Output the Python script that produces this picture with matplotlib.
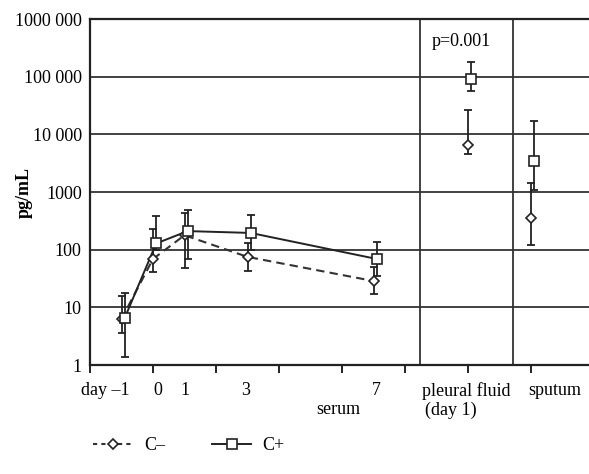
import matplotlib
matplotlib.use("Agg")
import matplotlib.pyplot as plt
from matplotlib.lines import Line2D
import numpy as np

plt.rcParams['font.family'] = ['Liberation Serif', 'DejaVu Serif']

# ---- data ----
days = [-1, 0, 1, 3, 7]              # serum sampling days
sample_x = [-1, 0, 1, 3, 7, 10, 12]  # serum days, pleural fluid, sputum (x positions)
n_serum = len(days)

cneg_val = [6.3, 69, 178, 75, 28.6, 6500, 352]
cneg_lo = [3.6, 41, 48, 43, 17, 4500, 120]
cneg_hi = [15.7, 228, 440, 130, 50, 26000, 1420]

cpos_val = [6.5, 128, 210, 195, 69, 91000, 3450]
cpos_lo = [1.37, 100, 69, 100, 35, 56000, 1080]
cpos_hi = [17.7, 380, 485, 400, 135, 178000, 17000]

xlabels = ['day \u20131', '0', '1', '3', '7', 'pleural fluid', 'sputum']
ylabels = ['1', '10', '100', '1000', '10 000', '100 000', '1000 000']
yticks = [1, 10, 100, 1000, 10000, 100000, 1000000]

# ---- figure ----
fig = plt.figure(figsize=(5.89, 4.74), dpi=100)
ax = fig.add_axes([90/589, 1 - 365/474, 1 - 90/589, (365 - 19)/474])
ax.set_yscale('log')
ax.set_ylim(1, 1e6)
ax.set_xlim(-2, -2 + 499/31.5)

for y in yticks[1:-1]:
    ax.axhline(y, color='#333333', lw=1.3, zorder=1)
for xv in [8.48, 11.42]:
    ax.axvline(xv, color='#333333', lw=1.3, zorder=1)

off = 0.1
xn = np.array(sample_x, dtype=float)
xp = xn + off

def errs(v, lo, hi):
    v = np.array(v); lo = np.array(lo); hi = np.array(hi)
    return np.vstack([v - lo, hi - v])

ax.errorbar(xn, cneg_val, yerr=errs(cneg_val, cneg_lo, cneg_hi), fmt='none',
            ecolor='#222222', elinewidth=1.3, capsize=2.8, capthick=1.3, zorder=3)
ax.errorbar(xp, cpos_val, yerr=errs(cpos_val, cpos_lo, cpos_hi), fmt='none',
            ecolor='#222222', elinewidth=1.3, capsize=2.8, capthick=1.3, zorder=3)

ax.plot(xn[:n_serum], cneg_val[:n_serum], color='#333333', lw=1.5, ls=(0, (4, 2.5)), zorder=4)
ax.plot(xp[:n_serum], cpos_val[:n_serum], color='#222222', lw=1.4, zorder=4)
ax.plot(xn, cneg_val, ls='none', marker='D', ms=5.5, mfc='white', mec='#222222', mew=1.2, zorder=5)
ax.plot(xp, cpos_val, ls='none', marker='s', ms=6.5, mfc='white', mec='#222222', mew=1.2, zorder=5)

# axes styling
for s in ['left', 'bottom', 'top']:
    ax.spines[s].set_linewidth(1.6)
    ax.spines[s].set_color('#222222')
ax.spines['right'].set_visible(False)
ax.set_yticks(yticks)
ax.set_yticklabels(ylabels)
ax.yaxis.set_minor_locator(matplotlib.ticker.NullLocator())
ax.tick_params(axis='y', length=0, pad=6, labelsize=13)
ax.set_xticks(np.arange(-2, 14, 2))
ax.set_xticklabels([])
ax.tick_params(axis='x', direction='out', length=6, width=1.4, color='#222222')

# category labels
label_x = [-1.5, 0.15, 1.0, 2.95, 7.1, 9.95, 12.75]
for lx, t in zip(label_x, xlabels):
    ax.annotate(t, xy=(lx, 0), xycoords=('data', 'axes fraction'),
                xytext=(0, -18.5), textcoords='offset points',
                ha='center', va='center', fontsize=13)
ax.annotate('serum', xy=(5.87, 0), xycoords=('data', 'axes fraction'),
            xytext=(0, -32), textcoords='offset points', ha='center', va='center', fontsize=13)
ax.annotate('(day 1)', xy=(9.46, 0), xycoords=('data', 'axes fraction'),
            xytext=(0, -32.5), textcoords='offset points', ha='center', va='center', fontsize=13)

ax.text(9.8, 4e5, 'p=0.001', ha='center', va='center', fontsize=13)

ax.set_ylabel('pg/mL', fontsize=13, fontweight='bold', labelpad=4)
ax.yaxis.set_label_coords(-0.114, 0.5)

h1 = Line2D([], [], color='#333333', lw=1.5, ls=(0, (2, 2)), marker='D', ms=5.5,
            mfc='white', mec='#222222', mew=1.2)
h2 = Line2D([], [], color='#222222', lw=1.4, marker='s', ms=6.5,
            mfc='white', mec='#222222', mew=1.2)
fig.legend([h1, h2], ['C\u2013', 'C+'], loc='center left',
           bbox_to_anchor=(77/589, 1 - 446/474), ncol=2, frameon=False,
           fontsize=13, handlelength=2.2, columnspacing=2.6, handletextpad=0.6)

fig.savefig('out.png', dpi=100, facecolor='white')
